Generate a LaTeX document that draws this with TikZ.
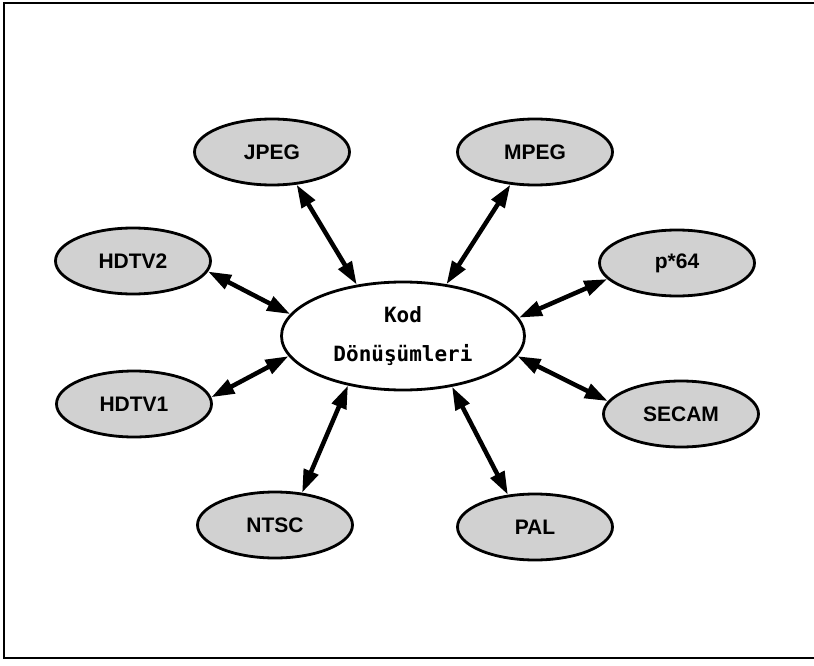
\documentclass[tikz,border=0pt]{standalone}
\usepackage{fontspec}
\setsansfont{Liberation Sans}
\newfontfamily\kodfont{DejaVu Sans Mono}
\usetikzlibrary{shapes.geometric,arrows.meta}

\begin{document}
\begin{tikzpicture}[x=1pt, y=-1pt,
    fmt/.style={ellipse, draw, line width=2.8pt, fill=black!18, minimum width=155pt, minimum height=66pt, inner sep=0pt, font=\sffamily\bfseries\fontsize{21}{24}\selectfont},
    core/.style={ellipse, draw, line width=2.8pt, fill=white, minimum width=243pt, minimum height=108pt, inner sep=0pt, align=center, font=\kodfont\bfseries\fontsize{21}{39}\selectfont},
    link/.style={{Triangle[length=23pt,width=15pt]}-{Triangle[length=23pt,width=15pt]}, line width=4.5pt}
]
    \useasboundingbox (0,0) rectangle (814,666);
    \draw[line width=1.8pt] (814,3) -- (4,3) -- (4,658) -- (814,658);

    \node[core] (kod) at (403,336) {Kod\\Dönüşümleri};

    \node[fmt] (jpeg) at (272,152) {JPEG};
    \node[fmt] (mpeg) at (535,152) {MPEG};
    \node[fmt] (hdtv2) at (133,261) {HDTV2};
    \node[fmt] (p64) at (677,263) {p*64};
    \node[fmt] (hdtv1) at (134,404) {HDTV1};
    \node[fmt] (secam) at (681,414) {SECAM};
    \node[fmt] (ntsc) at (275,525) {NTSC};
    \node[fmt] (pal) at (535,527) {PAL};

    \draw[link] (jpeg.-53) -- (kod.132);
    \draw[link] (mpeg.-127) -- (kod.50);
    \draw[link] (hdtv2.-8) -- (kod.169);
    \draw[link] (hdtv1.5) -- (kod.190);
    \draw[link] (p64.193) -- (kod.9);
    \draw[link] (secam.170) -- (kod.-10);
    \draw[link] (ntsc.50) -- (kod.-138);
    \draw[link] (pal.130) -- (kod.-46);
\end{tikzpicture}
\end{document}
